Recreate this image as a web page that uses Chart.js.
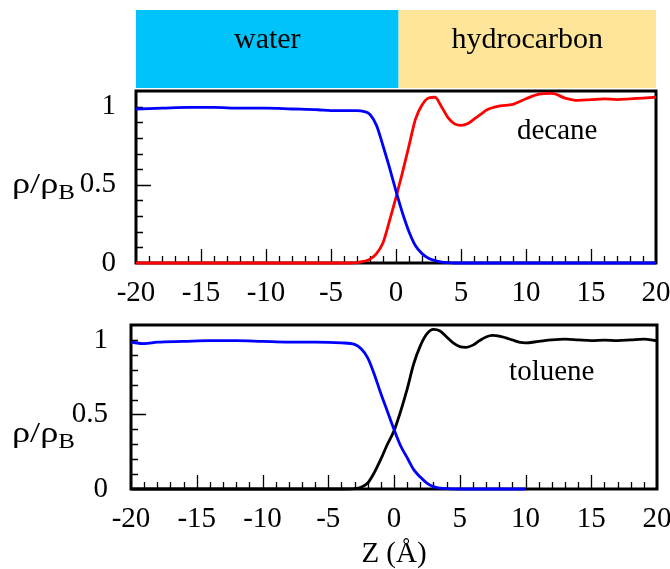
<!DOCTYPE html>
<html>
<head>
<meta charset="utf-8">
<script src="https://cdn.jsdelivr.net/npm/chart.js@4"></script>
<style>
body { margin: 0; background: #fff; }
#wrap { position: relative; width: 670px; height: 569px; }
canvas { position: absolute; left: 0; }
</style>
</head>
<body>
<div id="wrap">
  <canvas id="top" width="670" height="306" style="top:0"></canvas>
  <canvas id="bottom" width="670" height="263" style="top:306px"></canvas>
</div>
<script>
// データ (Z in Angstrom, density / bulk density)
var zDecane = [-20, -18, -16, -14, -12, -10, -8, -6, -5, -4, -3, -2.5, -2, -1.5, -1, -0.5, 0, 0.5, 1, 1.5,
  2, 2.5, 3, 3.5, 4, 4.5, 5, 5.5, 6, 6.5, 7, 7.5, 8, 9, 10, 11, 12, 13, 14, 15, 16, 17, 18, 19, 20];
var waterDecane = [0.985, 0.99, 0.995, 0.995, 0.99, 0.99, 0.985, 0.98, 0.975, 0.975, 0.975, 0.97, 0.95, 0.88, 0.75, 0.61, 0.46, 0.32, 0.2, 0.11,
  0.06, 0.03, 0.015, 0.006, 0.002, 0, 0, 0, 0, 0, 0, 0, 0, 0, 0, 0, 0, 0, 0, 0, 0, 0, 0, 0, 0];
var decane = [0, 0, 0, 0, 0, 0, 0, 0, 0, 0, 0.003, 0.01, 0.025, 0.06, 0.13, 0.27, 0.42, 0.58, 0.75, 0.92,
  1.01, 1.055, 1.06, 1.0, 0.93, 0.89, 0.88, 0.89, 0.92, 0.95, 0.98, 0.995, 1.005, 1.015, 1.05, 1.08, 1.085, 1.055, 1.04, 1.045, 1.05, 1.045, 1.05, 1.055, 1.06];

var zWaterToluene = [-20, -19, -18, -16, -14, -12, -10, -8, -6, -4, -3, -2.5, -2, -1.5, -1, -0.5, 0, 0.5, 1, 1.5,
  2, 2.5, 3, 3.5, 4, 5, 10];
var waterToluene = [0.985, 0.975, 0.985, 0.99, 0.995, 0.995, 0.99, 0.985, 0.985, 0.98, 0.97, 0.94, 0.88, 0.77, 0.64, 0.52, 0.40, 0.29, 0.21, 0.13,
  0.08, 0.04, 0.016, 0.006, 0.002, 0, 0];
var zToluene = [-20, -10, -5, -4, -3, -2.5, -2, -1.5, -1, -0.5, 0, 0.5, 1, 1.5, 2, 2.5, 3, 3.5, 4, 4.5,
  5, 5.5, 6, 6.5, 7, 7.5, 8, 9, 9.5, 10, 11, 12, 13, 14, 15, 16, 17, 18, 19, 20];
var toluene = [0, 0, 0, 0, 0.003, 0.012, 0.04, 0.11, 0.2, 0.3, 0.39, 0.52, 0.67, 0.84, 0.96, 1.04, 1.07, 1.06, 1.02, 0.98,
  0.955, 0.95, 0.965, 0.995, 1.02, 1.03, 1.025, 1.0, 0.985, 0.98, 0.99, 1.0, 1.005, 1.0, 0.995, 0.998, 0.995, 1.0, 1.005, 0.995];

// 軸とラベル
var xMin = -20, xMax = 20;
var yMin = 0, yMax = 1.1;
var yTickLabels = [0, 0.5, 1];
var phaseNames = ['water', 'hydrocarbon'];
var phaseEdges = [-20, 0.2, 20];
var phaseColors = ['#00c3f9', '#ffe59a'];

var serif = "'Liberation Serif', 'Times New Roman', serif";

function toPoints(xs, ys) {
    var pts = [];
    for (var i = 0; i < xs.length; i++) {
        pts.push({ x: xs[i], y: ys[i] });
    }
    return pts;
}

// 内向きの目盛りと枠、縦軸タイトル、注記
var panelPlugin = {
    id: 'panel',
    beforeDatasetsDraw: function (chart) {
        var ctx = chart.ctx, a = chart.chartArea;
        var xs = chart.scales.x, ys = chart.scales.y;
        ctx.save();
        ctx.strokeStyle = '#000';
        ctx.lineWidth = 1.3;
        ctx.beginPath();
        for (var v = xMin + 1; v < xMax; v++) {
            var px = Math.round(xs.getPixelForValue(v)) + 0.5;
            var len = (v % 5 == 0) ? 14 : 7;
            ctx.moveTo(px, a.bottom);
            ctx.lineTo(px, a.bottom - len);
        }
        for (var i = 1; i <= 10; i++) {
            var py = Math.round(ys.getPixelForValue(i / 10)) + 0.5;
            var len2 = (i == 5) ? 15 : 7;
            ctx.moveTo(a.left, py);
            ctx.lineTo(a.left + len2, py);
        }
        ctx.stroke();
        ctx.lineWidth = 3;
        ctx.strokeRect(a.left, a.top, a.right - a.left, a.bottom - a.top);
        ctx.restore();
    },
    afterDraw: function (chart, args, opts) {
        var ctx = chart.ctx;
        var xs = chart.scales.x, ys = chart.scales.y;
        ctx.save();
        ctx.fillStyle = '#000';
        ctx.textAlign = 'left';
        ctx.textBaseline = 'alphabetic';
        // ρ/ρB (少し横に広げる)
        ctx.save();
        ctx.translate(12, opts.titleY);
        ctx.scale(1.25, 1);
        ctx.font = '29px ' + serif;
        ctx.fillText('ρ/ρ', 0, 0);
        var w = ctx.measureText('ρ/ρ').width;
        ctx.font = '20px ' + serif;
        ctx.fillText('B', w, 6);
        ctx.restore();
        // 注記
        ctx.font = '29px ' + serif;
        ctx.textAlign = 'center';
        ctx.fillText(opts.note, xs.getPixelForValue(opts.noteX), ys.getPixelForValue(opts.noteY));
        ctx.restore();
    }
};

// 上の色帯
var phasePlugin = {
    id: 'phases',
    beforeDraw: function (chart) {
        if (!chart.options.plugins.phases.show) return;
        var ctx = chart.ctx, a = chart.chartArea, xs = chart.scales.x;
        ctx.save();
        for (var i = 0; i < phaseNames.length; i++) {
            var x0 = xs.getPixelForValue(phaseEdges[i]);
            var x1 = xs.getPixelForValue(phaseEdges[i + 1]);
            ctx.fillStyle = phaseColors[i];
            ctx.fillRect(x0, a.top - 81, x1 - x0, 78);
            ctx.fillStyle = '#000';
            ctx.font = '30px ' + serif;
            ctx.textAlign = 'center';
            ctx.textBaseline = 'middle';
            ctx.fillText(phaseNames[i], (x0 + x1) / 2, a.top - 51);
        }
        ctx.restore();
    }
};

function makePanel(id, datasets, cfg) {
    var ctx = document.getElementById(id).getContext('2d');
    return new Chart(ctx, {
        type: 'line',
        data: { datasets: datasets },
        plugins: [phasePlugin, panelPlugin],
        options: {
            responsive: false,
            animation: false,
            events: [],
            layout: { padding: { top: cfg.top, right: cfg.right, left: 0, bottom: 0 } },
            elements: {
                point: { radius: 0 },
                line: { borderWidth: 2.8, cubicInterpolationMode: 'monotone' }
            },
            plugins: {
                legend: { display: false },
                tooltip: { enabled: false },
                phases: { show: cfg.phases },
                panel: { titleY: cfg.titleY, note: cfg.note, noteX: cfg.noteX, noteY: cfg.noteY }
            },
            scales: {
                x: {
                    type: 'linear',
                    min: xMin,
                    max: xMax,
                    grid: { display: false, drawTicks: false },
                    border: { display: false },
                    ticks: {
                        stepSize: 5,
                        padding: cfg.xPad,
                        color: '#000',
                        maxRotation: 0,
                        font: { family: serif, size: 29 }
                    },
                    title: {
                        display: !!cfg.xTitle,
                        text: cfg.xTitle || '',
                        color: '#000',
                        padding: 0,
                        font: { family: serif, size: 29, lineHeight: 1 }
                    },
                    afterFit: function (s) {
                        s.height = cfg.xHeight;
                        s.paddingLeft = 0;
                        s.paddingRight = 0;
                    }
                },
                y: {
                    min: yMin,
                    max: yMax,
                    grid: { display: false, drawTicks: false },
                    border: { display: false },
                    afterBuildTicks: function (s) {
                        s.ticks = yTickLabels.map(function (v) { return { value: v }; });
                    },
                    ticks: {
                        padding: cfg.yPad,
                        color: '#000',
                        font: { family: serif, size: 29 },
                        callback: function (v) { return String(v); }
                    },
                    afterFit: function (s) {
                        s.width = cfg.yWidth;
                        s.paddingTop = 0;
                        s.paddingBottom = 0;
                    }
                }
            }
        }
    });
}

makePanel('top', [
    { data: toPoints(zDecane, waterDecane), borderColor: '#0000ff', fill: false, clip: false },
    { data: toPoints(zDecane, decane), borderColor: '#ff0000', fill: false, clip: false }
], { top: 91, right: 14, yWidth: 136, xHeight: 43, xPad: 13, yPad: 20, phases: true,
     titleY: 193, note: 'decane', noteX: 12.4, noteY: 0.795 });

makePanel('bottom', [
    { data: toPoints(zWaterToluene, waterToluene), borderColor: '#0000ff', fill: false, clip: false },
    { data: toPoints(zToluene, toluene), borderColor: '#000000', fill: false, clip: false }
], { top: 19, right: 13, yWidth: 131, xHeight: 80, xPad: 13, yPad: 23, phases: false,
     titleY: 136, note: 'toluene', noteX: 12, noteY: 0.73, xTitle: 'Z (Å)' });
</script>
</body>
</html>
